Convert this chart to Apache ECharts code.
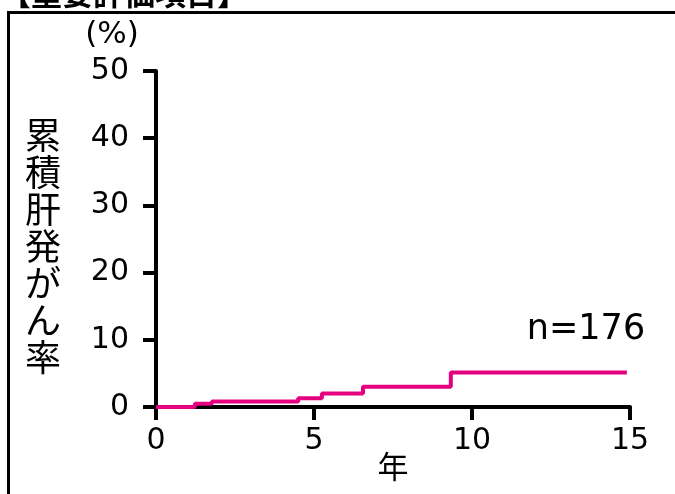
<!DOCTYPE html>
<html>
<head>
<meta charset="utf-8">
<title>累積肝発がん率</title>
<script src="https://cdn.jsdelivr.net/npm/echarts@6/dist/echarts.min.js"></script>
<style>
  html, body { margin: 0; padding: 0; background: #fff; }
  #main { width: 675px; height: 494px; }
</style>
</head>
<body>
<div id="main"></div>
<script>
// 経過年数と累積肝発がん率(%)
var years = [0, 1.23, 1.77, 4.5, 5.25, 6.55, 9.33, 14.9];
var rates = [0, 0.5, 0.8, 1.3, 2.0, 3.0, 5.15, 5.15];
var xTicks = [0, 5, 10, 15];
var yTicks = [0, 10, 20, 30, 40, 50];

var pts = years.map(function (y, i) { return [y, rates[i]]; });
var font = 'DejaVu Sans, Verdana, sans-serif';
var jp = '"Noto Sans CJK JP", sans-serif';

var myChart = echarts.init(document.getElementById('main'));

var option = {
  animation: false,
  grid: { left: 156, right: 45, top: 71, bottom: 87 },
  xAxis: {
    type: 'value', min: 0, max: 15, interval: 5,
    axisLine: { lineStyle: { color: '#000', width: 4 } },
    axisTick: { show: true, length: 13, lineStyle: { color: '#000', width: 4 } },
    axisLabel: { color: '#000', fontSize: 30, fontFamily: font, margin: 19 },
    splitLine: { show: false }
  },
  yAxis: {
    type: 'value', min: 0, max: 50, interval: 10,
    axisLine: { show: true, lineStyle: { color: '#000', width: 4 } },
    axisTick: { show: true, length: 13, lineStyle: { color: '#000', width: 4 } },
    axisLabel: { color: '#000', fontSize: 30, fontFamily: font, margin: 27 },
    splitLine: { show: false }
  },
  series: [{
    type: 'line',
    step: 'end',
    data: pts,
    symbol: 'none',
    lineStyle: { color: '#e4007f', width: 4 },
    z: 1
  }],
  graphic: [
    {
      type: 'rect', z: 10,
      shape: { x: 8.5, y: 12.5, width: 720, height: 600 },
      style: { fill: 'none', stroke: '#000', lineWidth: 3 }
    },
    {
      type: 'text', left: 0, top: -22,
      style: { text: '【重要評価項目】', font: 'bold 31px ' + jp, fill: '#000' }
    },
    {
      type: 'text', x: 112, y: 35,
      style: { text: '(%)', font: '31px ' + font, fill: '#000', align: 'center', verticalAlign: 'middle' }
    },
    {
      type: 'text', x: 43, y: 246,
      style: {
        text: '累積肝発がん率'.split('').join('\n'),
        font: '36px ' + jp, lineHeight: 37, fill: '#000',
        align: 'center', verticalAlign: 'middle'
      }
    },
    {
      type: 'text', x: 393, y: 466,
      style: { text: '年', font: '31px ' + jp, fill: '#000', align: 'center', verticalAlign: 'middle' }
    },
    {
      type: 'text', x: 586, y: 330,
      style: { text: 'n=176', font: '35px ' + font, fill: '#000', align: 'center', verticalAlign: 'middle' }
    }
  ]
};

myChart.setOption(option);
</script>
</body>
</html>
